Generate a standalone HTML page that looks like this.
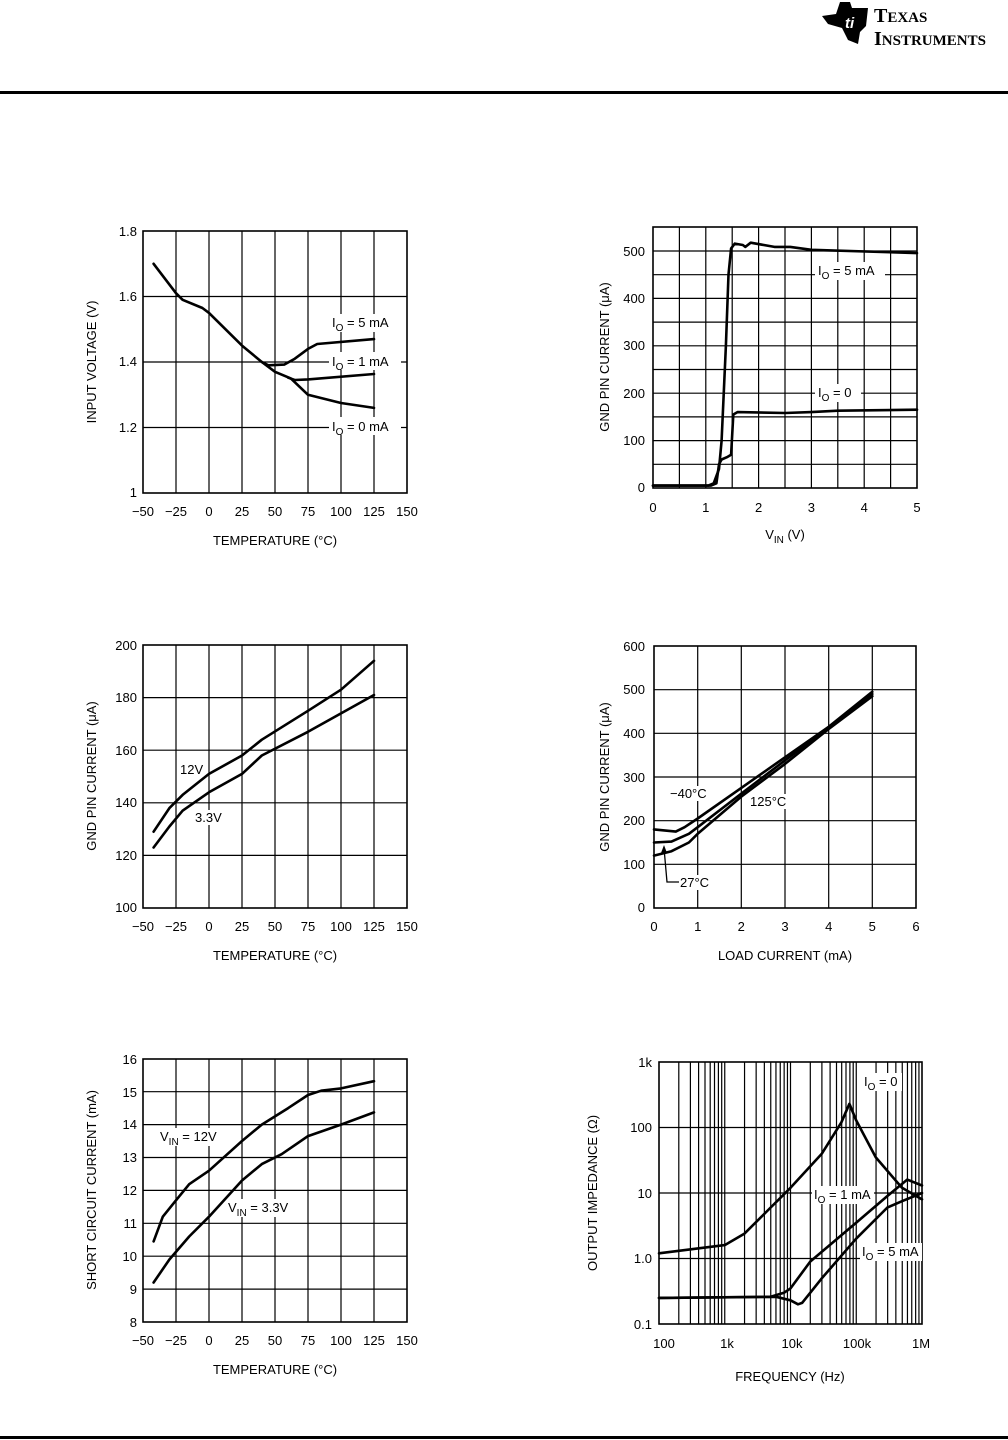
<!DOCTYPE html>
<html><head><meta charset="utf-8"><style>
html,body{margin:0;padding:0;background:#fff}
svg{display:block}
text{font-family:"Liberation Sans",sans-serif;font-size:13px;fill:#000}
.g{stroke:#000;stroke-width:1.2;fill:none}
.b{stroke:#000;stroke-width:1.6;fill:none}
.c{stroke:#000;stroke-width:2.6;fill:none;stroke-linejoin:round;stroke-linecap:round}
.r{text-anchor:end}
.m{text-anchor:middle}
.w{fill:#fff;stroke:none}
</style></head><body>
<svg width="1008" height="1440" viewBox="0 0 1008 1440" xmlns="http://www.w3.org/2000/svg">
<!-- header -->
<polygon points="822,16 836,14 840,2 850,2 852,8 868,8 866,26 860,32 858,44 848,40 842,28 828,24" fill="#000"/>
<text x="845" y="28" style="font-size:15px;font-style:italic;font-weight:bold;fill:#fff">ti</text>
<text x="874" y="22" style="font-family:'Liberation Serif',serif;font-size:20px;font-weight:bold">T<tspan style="font-size:15px">EXAS</tspan></text>
<text x="874" y="45" style="font-family:'Liberation Serif',serif;font-size:20px;font-weight:bold">I<tspan style="font-size:15px">NSTRUMENTS</tspan></text>
<rect x="0" y="91" width="1008" height="3" fill="#000"/>
<rect x="0" y="1436" width="1008" height="3" fill="#000"/>

<!-- Chart 1 -->
<g>
<path class="g" d="M176,231V493M209,231V493M242,231V493M275,231V493M308,231V493M341,231V493M374,231V493M143,427.5H407M143,362H407M143,296.5H407"/>
<rect class="b" x="143" y="231" width="264" height="262"/>
<rect class="w" x="329" y="314" width="72" height="18"/><rect class="w" x="329" y="352" width="72" height="18"/><rect class="w" x="329" y="417" width="72" height="18"/>
<text x="332" y="327">I<tspan dy="4" font-size="10">O</tspan><tspan dy="-4"> = 5 mA</tspan></text>
<text x="332" y="366">I<tspan dy="4" font-size="10">O</tspan><tspan dy="-4"> = 1 mA</tspan></text>
<text x="332" y="431">I<tspan dy="4" font-size="10">O</tspan><tspan dy="-4"> = 0 mA</tspan></text>
<polyline class="c" points="153.6,263.8 176,293.2 182.6,299.8 202.4,308 209,312.9 242,345.6 261.8,362 275,371.8 290.8,378.4 308,394.8 341,403 374,407.9"/>
<polyline class="c" points="261.8,362 268.4,365.3 284.2,364.6 294.8,358.7 308,348.9 317.2,344 374,339.1"/>
<polyline class="c" points="288.2,377.7 294.8,380 308,379.4 374,374"/>
<text class="r" x="137" y="236">1.8</text><text class="r" x="137" y="301">1.6</text><text class="r" x="137" y="366">1.4</text><text class="r" x="137" y="432">1.2</text><text class="r" x="137" y="497">1</text>
<text class="m" x="143" y="516">−50</text><text class="m" x="176" y="516">−25</text><text class="m" x="209" y="516">0</text><text class="m" x="242" y="516">25</text><text class="m" x="275" y="516">50</text><text class="m" x="308" y="516">75</text><text class="m" x="341" y="516">100</text><text class="m" x="374" y="516">125</text><text class="m" x="407" y="516">150</text>
<text class="m" x="275" y="545">TEMPERATURE (°C)</text>
<text class="m" transform="translate(96,362) rotate(-90)">INPUT VOLTAGE (V)</text>
</g>

<!-- Chart 2 -->
<g>
<path class="g" d="M679.4,227V488M705.8,227V488M732.2,227V488M758.6,227V488M785,227V488M811.4,227V488M837.8,227V488M864.2,227V488M890.6,227V488M653,464.3H917M653,440.6H917M653,416.9H917M653,393.2H917M653,369.5H917M653,345.8H917M653,322.1H917M653,298.4H917M653,274.7H917M653,251H917"/>
<rect class="b" x="653" y="227" width="264" height="261"/>
<rect class="w" x="815" y="262" width="70" height="18"/><rect class="w" x="815" y="384" width="46" height="18"/>
<text x="818" y="275">I<tspan dy="4" font-size="10">O</tspan><tspan dy="-4"> = 5 mA</tspan></text>
<text x="818" y="397">I<tspan dy="4" font-size="10">O</tspan><tspan dy="-4"> = 0</tspan></text>
<polyline class="c" points="653,485.6 708.4,485.6 713.7,483.3 719,469 721.6,440.6 725.9,345.6 728.5,274.5 731.1,248.4 734.8,243.6 742.8,245 745.4,246.9 750.7,242.7 774.4,246.9 790.3,246.9 811.4,249.8 917,253.1"/>
<polyline class="c" points="653,485.6 711,485.6 716.4,483.3 719,464.3 721.6,459.5 726.9,457.2 731.1,454.8 733.3,414.5 737.5,412.1 785,413 811.4,412.1 837.8,410.7 917,409.7"/>
<text class="r" x="645" y="256">500</text><text class="r" x="645" y="303">400</text><text class="r" x="645" y="350">300</text><text class="r" x="645" y="398">200</text><text class="r" x="645" y="445">100</text><text class="r" x="645" y="492">0</text>
<text class="m" x="653" y="512">0</text><text class="m" x="705.8" y="512">1</text><text class="m" x="758.6" y="512">2</text><text class="m" x="811.4" y="512">3</text><text class="m" x="864.2" y="512">4</text><text class="m" x="917" y="512">5</text>
<text class="m" x="785" y="539">V<tspan dy="4" font-size="10">IN</tspan><tspan dy="-4">  (V)</tspan></text>
<text class="m" transform="translate(609,357) rotate(-90)">GND PIN CURRENT (μA)</text>
</g>

<!-- Chart 3 -->
<g>
<path class="g" d="M176,645V908M209,645V908M242,645V908M275,645V908M308,645V908M341,645V908M374,645V908M143,855.4H407M143,802.8H407M143,750.2H407M143,697.6H407"/>
<rect class="b" x="143" y="645" width="264" height="263"/>
<rect class="w" x="178" y="762" width="30" height="15"/><rect class="w" x="193" y="810" width="32" height="15"/>
<text x="180" y="774">12V</text><text x="195" y="822">3.3V</text>
<polyline class="c" points="153.6,831.7 169.4,808.1 182.6,794.9 209,773.9 242,755.5 261.8,739.7 308,710.8 341,689.7 374,660.8"/>
<polyline class="c" points="153.6,847.5 169.4,826.5 182.6,810.7 209,792.3 242,773.9 261.8,755.5 308,731.8 341,713.4 374,695"/>
<text class="r" x="137" y="650">200</text><text class="r" x="137" y="702">180</text><text class="r" x="137" y="755">160</text><text class="r" x="137" y="807">140</text><text class="r" x="137" y="860">120</text><text class="r" x="137" y="912">100</text>
<text class="m" x="143" y="931">−50</text><text class="m" x="176" y="931">−25</text><text class="m" x="209" y="931">0</text><text class="m" x="242" y="931">25</text><text class="m" x="275" y="931">50</text><text class="m" x="308" y="931">75</text><text class="m" x="341" y="931">100</text><text class="m" x="374" y="931">125</text><text class="m" x="407" y="931">150</text>
<text class="m" x="275" y="960">TEMPERATURE (°C)</text>
<text class="m" transform="translate(96,776) rotate(-90)">GND PIN CURRENT (μA)</text>
</g>

<!-- Chart 4 -->
<g>
<path class="g" d="M697.7,646V908M741.3,646V908M785,646V908M828.7,646V908M872.3,646V908M654,864.3H916M654,820.7H916M654,777H916M654,733.3H916M654,689.7H916"/>
<rect class="b" x="654" y="646" width="262" height="262"/>
<rect class="w" x="668" y="786" width="44" height="15"/><rect class="w" x="748" y="794" width="44" height="15"/><rect class="w" x="678" y="875" width="38" height="15"/>
<text x="670" y="798">−40°C</text><text x="750" y="806">125°C</text><text x="680" y="887">27°C</text>
<polyline points="679,882 667,882 664,848" style="stroke:#000;stroke-width:1.3;fill:none"/>
<polygon points="664,845 661,853 667,853" fill="#000"/>
<polyline class="c" points="654,829.4 675.8,831.6 684.6,827.2 697.7,818.5 741.3,787.9 785,757.3 828.7,726.8 872.3,691.8"/>
<polyline class="c" points="654,842.5 671.5,841.6 688.9,833.8 697.7,827.2 741.3,793.6 785,760.4 828.7,727.6 872.3,694"/>
<polyline class="c" points="654,855.6 671.5,851.2 688.9,842.5 697.7,833.8 741.3,796.6 785,763.9 828.7,729 872.3,696.2"/>
<text class="r" x="645" y="651">600</text><text class="r" x="645" y="694">500</text><text class="r" x="645" y="738">400</text><text class="r" x="645" y="782">300</text><text class="r" x="645" y="825">200</text><text class="r" x="645" y="869">100</text><text class="r" x="645" y="912">0</text>
<text class="m" x="654" y="931">0</text><text class="m" x="697.7" y="931">1</text><text class="m" x="741.3" y="931">2</text><text class="m" x="785" y="931">3</text><text class="m" x="828.7" y="931">4</text><text class="m" x="872.3" y="931">5</text><text class="m" x="916" y="931">6</text>
<text class="m" x="785" y="960">LOAD CURRENT (mA)</text>
<text class="m" transform="translate(609,777) rotate(-90)">GND PIN CURRENT (μA)</text>
</g>

<!-- Chart 5 -->
<g>
<path class="g" d="M176,1059V1322M209,1059V1322M242,1059V1322M275,1059V1322M308,1059V1322M341,1059V1322M374,1059V1322M143,1289.1H407M143,1256.2H407M143,1223.3H407M143,1190.4H407M143,1157.5H407M143,1124.6H407M143,1091.7H407"/>
<rect class="b" x="143" y="1059" width="264" height="263"/>
<rect class="w" x="158" y="1128" width="74" height="18"/><rect class="w" x="226" y="1199" width="80" height="18"/>
<text x="160" y="1141">V<tspan dy="4" font-size="10">IN</tspan><tspan dy="-4"> = 12V</tspan></text>
<text x="228" y="1212">V<tspan dy="4" font-size="10">IN</tspan><tspan dy="-4"> = 3.3V</tspan></text>
<polyline class="c" points="153.6,1241.4 162.8,1216.7 176,1200.3 189.2,1184.2 209,1170.7 242,1141 261.8,1124.6 288.2,1108.1 308,1095 321.2,1090.7 341,1088.4 374,1081.2"/>
<polyline class="c" points="153.6,1282.5 169.4,1259.5 189.2,1236.5 209,1216.7 242,1180.5 261.8,1164.1 281.6,1154.2 308,1136.1 341,1124.6 374,1112.4"/>
<text class="r" x="137" y="1064">16</text><text class="r" x="137" y="1097">15</text><text class="r" x="137" y="1129">14</text><text class="r" x="137" y="1162">13</text><text class="r" x="137" y="1195">12</text><text class="r" x="137" y="1228">11</text><text class="r" x="137" y="1261">10</text><text class="r" x="137" y="1294">9</text><text class="r" x="137" y="1327">8</text>
<text class="m" x="143" y="1345">−50</text><text class="m" x="176" y="1345">−25</text><text class="m" x="209" y="1345">0</text><text class="m" x="242" y="1345">25</text><text class="m" x="275" y="1345">50</text><text class="m" x="308" y="1345">75</text><text class="m" x="341" y="1345">100</text><text class="m" x="374" y="1345">125</text><text class="m" x="407" y="1345">150</text>
<text class="m" x="275" y="1374">TEMPERATURE (°C)</text>
<text class="m" transform="translate(96,1190) rotate(-90)">SHORT CIRCUIT CURRENT (mA)</text>
</g>

<!-- Chart 6 -->
<g>
<path class="g" d="M678.8,1062V1324M690.4,1062V1324M698.6,1062V1324M705,1062V1324M710.2,1062V1324M714.5,1062V1324M718.4,1062V1324M721.7,1062V1324M724.75,1062V1324
M744.55,1062V1324M756.15,1062V1324M764.35,1062V1324M770.75,1062V1324M775.95,1062V1324M780.25,1062V1324M784.15,1062V1324M787.45,1062V1324M790.5,1062V1324
M810.3,1062V1324M821.9,1062V1324M830.1,1062V1324M836.5,1062V1324M841.7,1062V1324M846,1062V1324M849.9,1062V1324M853.2,1062V1324M856.25,1062V1324
M876.05,1062V1324M887.65,1062V1324M895.85,1062V1324M902.25,1062V1324M907.45,1062V1324M911.75,1062V1324M915.65,1062V1324M918.95,1062V1324
M659,1258.5H922M659,1193H922M659,1127.5H922"/>
<rect class="b" x="659" y="1062" width="263" height="262"/>
<rect class="w" x="862" y="1073" width="40" height="18"/><rect class="w" x="812" y="1186" width="62" height="18"/><rect class="w" x="860" y="1243" width="62" height="18"/>
<text x="864" y="1086">I<tspan dy="4" font-size="10">O</tspan><tspan dy="-4"> = 0</tspan></text>
<text x="814" y="1199">I<tspan dy="4" font-size="10">O</tspan><tspan dy="-4"> = 1 mA</tspan></text>
<text x="862" y="1256">I<tspan dy="4" font-size="10">O</tspan><tspan dy="-4"> = 5 mA</tspan></text>
<polyline class="c" points="659,1253.3 724.75,1245.1 744.5,1233.6 770.7,1207.5 790.5,1187.8 821.9,1153.6 841.4,1122.3 849.4,1103.8 856,1120 875.8,1157.4 902,1187.8 922,1199.4"/>
<polyline class="c" points="659,1297.9 770.7,1296.8 783.9,1292.8 790.5,1288.4 810.3,1261.5 856,1222.9 887.4,1196 907.2,1179.6 922,1185.5"/>
<polyline class="c" points="659,1297.9 776.1,1296.8 790.5,1300.3 798,1304.3 802.1,1302.9 821.9,1278.2 856,1238.8 887.4,1207.5 902,1201.2 922,1193"/>
<text class="r" x="652" y="1067">1k</text><text class="r" x="652" y="1132">100</text><text class="r" x="652" y="1198">10</text><text class="r" x="652" y="1263">1.0</text><text class="r" x="652" y="1329">0.1</text>
<text class="m" x="664" y="1348">100</text><text class="m" x="727" y="1348">1k</text><text class="m" x="792" y="1348">10k</text><text class="m" x="857" y="1348">100k</text><text class="m" x="921" y="1348">1M</text>
<text class="m" x="790" y="1381">FREQUENCY (Hz)</text>
<text class="m" transform="translate(597,1193) rotate(-90)">OUTPUT IMPEDANCE (Ω)</text>
</g>
</svg>
</body></html>
